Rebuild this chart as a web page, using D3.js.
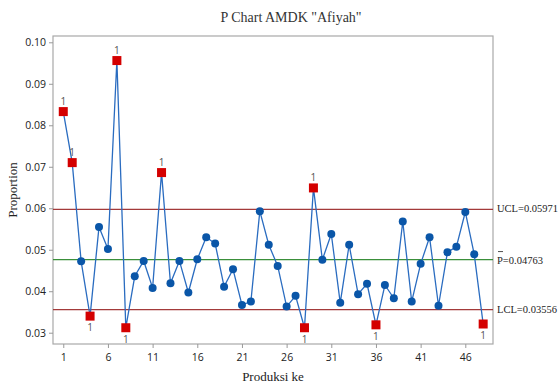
<!DOCTYPE html>
<html>
<head>
<meta charset="utf-8">
<script src="https://cdn.jsdelivr.net/npm/d3@7"></script>
<style>
  body { margin: 0; background: #fff; }
  svg { display: block; }
</style>
</head>
<body>
<div id="chart"></div>
<script>
// sample number 1..48 and the proportion
const samples = d3.range(1, 49);
const proportions = [
  0.0833, 0.0710, 0.0472, 0.0340, 0.0555, 0.0502, 0.0956, 0.0312, 0.0436, 0.0473,
  0.0408, 0.0686, 0.0419, 0.0473, 0.0397, 0.0477, 0.0530, 0.0515, 0.0411, 0.0453,
  0.0367, 0.0375, 0.0593, 0.0512, 0.0461, 0.0363, 0.0389, 0.0312, 0.0649, 0.0476,
  0.0538, 0.0372, 0.0512, 0.0393, 0.0418, 0.0319, 0.0415, 0.0383, 0.0568, 0.0375,
  0.0466, 0.0530, 0.0365, 0.0494, 0.0507, 0.0591, 0.0489, 0.0321
];
const limits = [
  { key: 'UCL', value: 0.05971, label: 'UCL=0.05971' },
  { key: 'P', value: 0.04763, label: 'P=0.04763' },
  { key: 'LCL', value: 0.03556, label: 'LCL=0.03556' }
];
const xTicks = [1, 6, 11, 16, 21, 26, 31, 36, 41, 46];
const yTicks = [0.03, 0.04, 0.05, 0.06, 0.07, 0.08, 0.09, 0.10];

const width = 559;
const height = 385;
const margin = { top: 36, right: 66, bottom: 41, left: 53 };
const innerW = width - margin.left - margin.right;
const innerH = height - margin.top - margin.bottom;

const data = samples.map((s, i) => ({ s, p: proportions[i] }));
const ucl = limits[0].value, lcl = limits[2].value;
const isOut = d => d.p > ucl || d.p < lcl;

const svg = d3.select('#chart').append('svg')
  .attr('width', width)
  .attr('height', height);

const g = svg.append('g').attr('transform', `translate(${margin.left},${margin.top})`);

const x = d3.scaleLinear().domain([-0.15, 49.1]).range([0, innerW]);
const y = d3.scaleLinear().domain([0.02728, 0.10152]).range([innerH, 0]);

const tickFont = '"Open Sans", "Noto Sans", sans-serif';
const serif = '"Liberation Serif", "DejaVu Serif", serif';

// frame
g.append('rect')
  .attr('width', innerW).attr('height', innerH)
  .attr('fill', 'none').attr('stroke', '#a8a8a8').attr('stroke-width', 1.2);

// limit lines
const limitColor = { UCL: '#a33a3a', P: '#3a8f3a', LCL: '#a33a3a' };
g.selectAll('line.limit')
  .data(limits)
  .join('line')
  .attr('class', 'limit')
  .attr('x1', 0).attr('x2', innerW)
  .attr('y1', d => y(d.value)).attr('y2', d => y(d.value))
  .attr('stroke', d => limitColor[d.key])
  .attr('stroke-width', 1.3);

// limit labels on the right
const lab = svg.append('g').attr('transform', `translate(${margin.left + innerW + 4},${margin.top})`);
lab.selectAll('text')
  .data(limits)
  .join('text')
  .attr('y', d => y(d.value) + (d.key === 'P' ? 4 : 3))
  .style('font-family', serif)
  .style('font-size', '10.5px')
  .attr('fill', '#222')
  .text(d => d.label);
// bar over P
lab.append('line')
  .attr('x1', 1).attr('x2', 6)
  .attr('y1', y(limits[1].value) - 8).attr('y2', y(limits[1].value) - 8)
  .attr('stroke', '#222').attr('stroke-width', 0.8);

// series line
g.append('path')
  .datum(data)
  .attr('fill', 'none')
  .attr('stroke', '#2a6cc0')
  .attr('stroke-width', 1.3)
  .attr('d', d3.line().x(d => x(d.s)).y(d => y(d.p)));

// in-control points
g.selectAll('circle')
  .data(data.filter(d => !isOut(d)))
  .join('circle')
  .attr('cx', d => x(d.s))
  .attr('cy', d => y(d.p))
  .attr('r', 4)
  .attr('fill', '#0a56a8');

// out-of-control points
const outs = data.filter(isOut);
g.selectAll('rect.out')
  .data(outs)
  .join('rect')
  .attr('class', 'out')
  .attr('x', d => x(d.s) - 4.5)
  .attr('y', d => y(d.p) - 4.5)
  .attr('width', 9).attr('height', 9)
  .attr('fill', '#d40000');

g.selectAll('text.flag')
  .data(outs)
  .join('text')
  .attr('class', 'flag')
  .attr('x', d => x(d.s))
  .attr('y', d => d.p > ucl ? y(d.p) - 7 : y(d.p) + 15)
  .attr('text-anchor', 'middle')
  .style('font-family', tickFont)
  .style('font-size', '10px')
  .attr('fill', '#555')
  .text('1');

// x axis
g.append('g')
  .attr('transform', `translate(0,${innerH})`)
  .call(d3.axisBottom(x).tickValues(xTicks).tickSize(4).tickPadding(6).tickFormat(d3.format('d')))
  .call(a => a.select('.domain').remove())
  .call(a => a.selectAll('.tick line').attr('stroke', '#999'))
  .call(a => a.selectAll('.tick text').attr('fill', '#222').style('font-family', tickFont).style('font-size', '10.5px'));

// y axis
g.append('g')
  .call(d3.axisLeft(y).tickValues(yTicks).tickSize(4).tickPadding(3).tickFormat(d3.format('.2f')))
  .call(a => a.select('.domain').remove())
  .call(a => a.selectAll('.tick line').attr('stroke', '#999'))
  .call(a => a.selectAll('.tick text').attr('fill', '#222').style('font-family', tickFont).style('font-size', '10.5px'));

// titles
svg.append('text')
  .attr('x', 291).attr('y', 22)
  .attr('text-anchor', 'middle')
  .style('font-family', serif).style('font-size', '14px')
  .attr('fill', '#333')
  .text('P Chart AMDK "Afiyah"');

svg.append('text')
  .attr('x', 273).attr('y', 381)
  .attr('text-anchor', 'middle')
  .style('font-family', serif).style('font-size', '13px')
  .attr('fill', '#222')
  .text('Produksi ke');

svg.append('text')
  .attr('transform', `translate(17,${margin.top + innerH / 2}) rotate(-90)`)
  .attr('text-anchor', 'middle')
  .style('font-family', serif).style('font-size', '13px')
  .attr('fill', '#222')
  .text('Proportion');
</script>
</body>
</html>
